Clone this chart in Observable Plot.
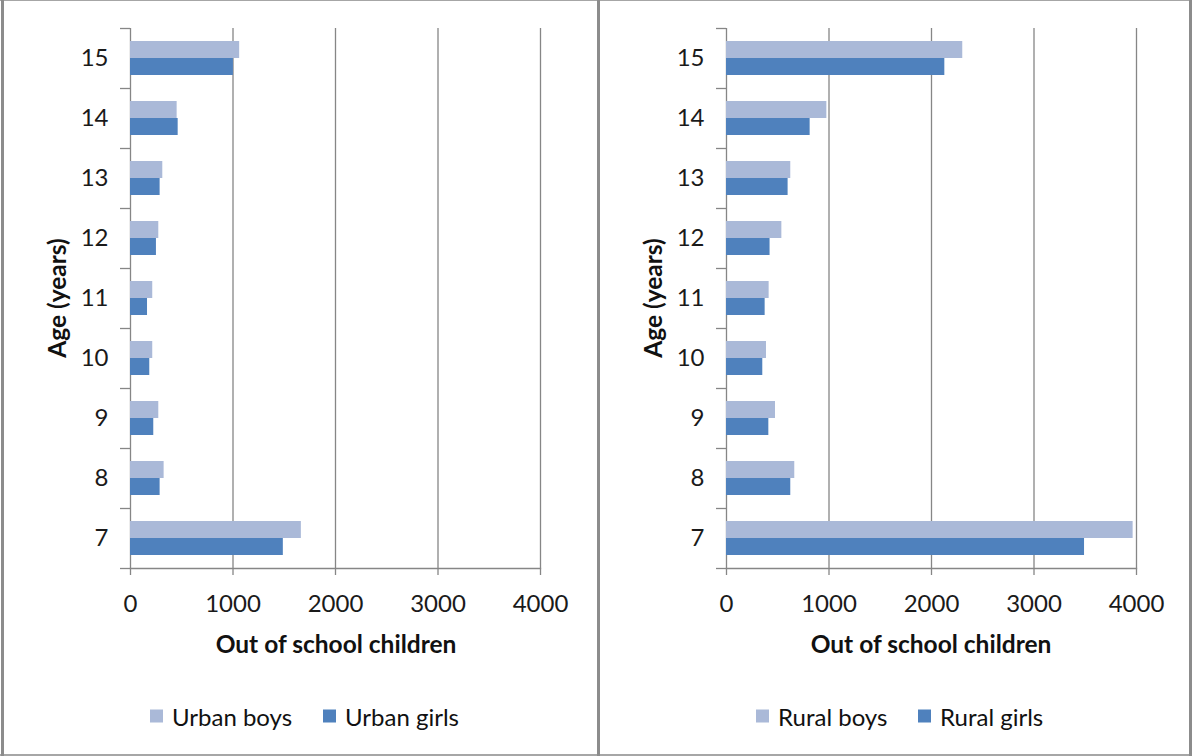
<!DOCTYPE html>
<html><head><meta charset="utf-8">
<script src="https://cdn.jsdelivr.net/npm/d3@7"></script>
<script src="https://cdn.jsdelivr.net/npm/@observablehq/plot@0.6"></script>
<style>
body{margin:0;background:#fff;font-family:Lato,"Noto Sans",sans-serif;}
#wrap{position:relative;width:1192px;height:756px;overflow:hidden;background:#fff;}
.panel{position:absolute;top:0;}
.t{position:absolute;white-space:nowrap;color:#111;font-size:24.5px;font-weight:bold;transform:translate(-50%,-50%);}
.ty{transform:translate(-50%,-50%) rotate(-90deg);}
.leg{position:absolute;top:716px;transform:translateY(-50%);font-size:24px;color:#111;white-space:nowrap;display:flex;align-items:center;}
.sw{display:inline-block;width:13px;height:13px;margin-right:9px;}
.line{position:absolute;background:#8c8c8c;}
</style></head>
<body><div id="wrap"></div>
<script>
const ages = ["15","14","13","12","11","10","9","8","7"];
const urbanBoys  = [1065, 455, 315, 276, 217, 217, 276, 328, 1667];
const urbanGirls = [1004, 465, 289, 253, 166, 188, 227, 289, 1491];
const ruralBoys  = [2305, 979, 627, 540, 416, 390, 478, 666, 3967];
const ruralGirls = [2130, 816, 601, 425, 377, 354, 413, 627, 3493];
const xTicks = [0, 1000, 2000, 3000, 4000];
const xTitle = "Out of school children";
const yTitle = "Age (years)";
const boysColor = "#AAB9D8";
const girlsColor = "#4F81BD";
const gridColor = "#868686";

function panel(boys, girls, width, marginLeft, marginRight) {
  const b = ages.map((a, i) => ({age: a, v: boys[i]}));
  const g = ages.map((a, i) => ({age: a, v: girls[i]}));
  return Plot.plot({
    width, height: 660,
    marginLeft, marginRight, marginTop: 28, marginBottom: 92,
    x: {domain: [0, 4000]},
    y: {domain: ages, padding: 0},
    style: {fontFamily: "Lato, 'Noto Sans', sans-serif", fontSize: "24px", color: "#1a1a1a", background: "transparent", overflow: "visible"},
    marks: [
      Plot.ruleX(xTicks, {stroke: gridColor, strokeWidth: 1.3}),
      Plot.barX(b, {x: "v", y: "age", fill: boysColor, insetTop: 13, insetBottom: 30}),
      Plot.barX(g, {x: "v", y: "age", fill: girlsColor, insetTop: 30, insetBottom: 13}),
      Plot.frame({anchor: "bottom", stroke: gridColor, strokeWidth: 1.3}),
      Plot.axisX({ticks: xTicks, tickSize: 7, tickPadding: 19, stroke: gridColor, strokeWidth: 1.3, tickFormat: d => String(d), label: null}),
      Plot.axisY({tickSize: 0, tickPadding: 22, label: null}),
      Plot.axisY({tickSize: 10, text: null, dy: 30, stroke: gridColor, strokeWidth: 1.3, label: null}),
      Plot.axisY({ticks: [ages[0]], tickSize: 10, text: null, dy: -30, stroke: gridColor, strokeWidth: 1.3, label: null})
    ]
  });
}

const wrap = document.getElementById("wrap");
function add(el, left) { el.classList.add("panel"); el.style.left = left + "px"; wrap.appendChild(el); }
add(panel(urbanBoys, urbanGirls, 597, 130, 57), 0);
add(panel(ruralBoys, ruralGirls, 592, 126, 56), 600);

function text(cls, s, x, y) {
  const d = document.createElement("div"); d.className = cls; d.textContent = s;
  d.style.left = x + "px"; d.style.top = y + "px"; wrap.appendChild(d);
}
text("t", xTitle, 336, 643);
text("t", xTitle, 931, 643);
text("t ty", yTitle, 56, 298);
text("t ty", yTitle, 652, 298);

function legend(label, color, x) {
  const d = document.createElement("div"); d.className = "leg"; d.style.left = x + "px";
  const s = document.createElement("span"); s.className = "sw"; s.style.background = color;
  d.appendChild(s); d.appendChild(document.createTextNode(label)); wrap.appendChild(d);
}
legend("Urban boys", boysColor, 150);
legend("Urban girls", girlsColor, 323);
legend("Rural boys", boysColor, 756);
legend("Rural girls", girlsColor, 918);

function line(l, t, w, h, c) {
  const d = document.createElement("div"); d.className = "line";
  Object.assign(d.style, {left: l + "px", top: t + "px", width: w + "px", height: h + "px"});
  if (c) d.style.background = c; wrap.appendChild(d);
}
line(0, 0, 1192, 1, "#a6a6a6");
line(0, 754, 1192, 2, "#a6a6a6");
line(1, 0, 3, 756);
line(597, 0, 3, 756);
line(1189, 0, 3, 756);
</script></body></html>
